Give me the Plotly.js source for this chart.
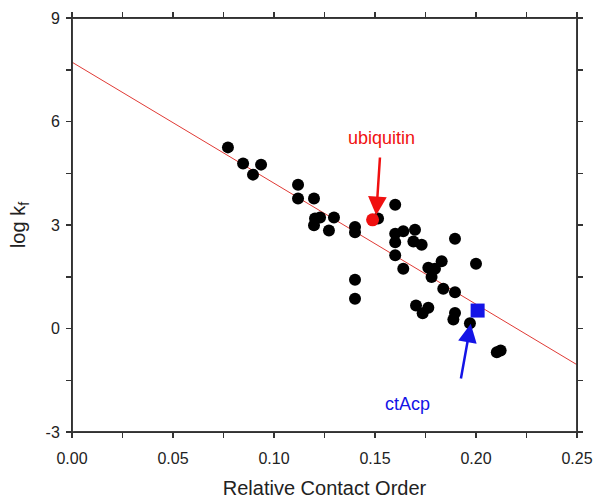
<!DOCTYPE html>
<html>
<head>
<meta charset="utf-8">
<script src="https://cdn.plot.ly/plotly-3.0.1.min.js"></script>
<style>html,body{margin:0;padding:0;background:#fff}#chart{width:597px;height:499px}</style>
</head>
<body>
<div id="chart"></div>
<script>
// Relative contact order (x) and log kf (y) of the protein set
const rco = [0.0772,0.0847,0.0936,0.0896,0.1119,0.1119,0.1198,0.1203,0.1228,0.1198,0.1297,0.1272,
  0.1515,0.160,0.1401,0.1401,0.160,0.164,0.1698,0.160,0.169,0.1731,0.1896,0.160,0.164,0.183,
  0.1764,0.1797,0.178,0.200,0.1401,0.1401,0.1838,0.1896,0.1703,0.1764,0.1736,0.1896,0.1888,
  0.197,0.2103,0.2122];
const logkf = [5.25,4.78,4.75,4.46,4.17,3.77,3.77,3.19,3.22,2.99,3.22,2.84,
  3.19,3.59,2.94,2.79,2.75,2.82,2.86,2.50,2.52,2.43,2.60,2.12,1.73,1.95,
  1.76,1.73,1.49,1.88,1.41,0.86,1.15,1.05,0.67,0.60,0.44,0.45,0.26,
  0.15,-0.69,-0.64];
const ubiquitinX = [0.1488], ubiquitinY = [3.15];
const ctAcpX = [0.2008], ctAcpY = [0.52];
const fitX = [0, 0.25], fitY = [7.72, -1.05];
const xTicks = [0, 0.025, 0.05, 0.075, 0.10, 0.125, 0.15, 0.175, 0.20, 0.225, 0.25];
const xTickText = ['0.00',' ','0.05',' ','0.10',' ','0.15',' ','0.20',' ','0.25'];
const yTicks = [-3, -1.5, 0, 1.5, 3, 4.5, 6, 7.5, 9];
const yTickText = ['-3',' ','0',' ','3',' ','6',' ','9'];
const xRange = [0, 0.25], yRange = [-3, 9];

const axisCol = '#333';
const fam = 'Liberation Sans, Arial, sans-serif';
const tickFont = {family: fam, size: 16, color: '#222'};

const traces = [
  {x: fitX, y: fitY, mode: 'lines', line: {color: '#e03a35', width: 1}, hoverinfo: 'skip'},
  {x: rco, y: logkf, mode: 'markers', marker: {color: '#000', size: 12, symbol: 'circle'}},
  {x: ubiquitinX, y: ubiquitinY, mode: 'markers', marker: {color: '#f01010', size: 13, symbol: 'circle'}},
  {x: ctAcpX, y: ctAcpY, mode: 'markers', marker: {color: '#1414e6', size: 14, symbol: 'square'}}
];

// frame edges built from the axis ranges, drawn as plain lines
function edge(x0, y0, x1, y1) {
  return {x: x1, y: y1, ax: x0, ay: y0, xref: 'x', yref: 'y', axref: 'x', ayref: 'y',
    text: '', showarrow: true, arrowhead: 0, arrowwidth: 1.5, arrowcolor: axisCol, standoff: 0, startstandoff: 0};
}
const frameEdges = [
  edge(xRange[0], yRange[0], xRange[1], yRange[0]),
  edge(xRange[1], yRange[0], xRange[1], yRange[1]),
  edge(xRange[1], yRange[1], xRange[0], yRange[1]),
  edge(xRange[0], yRange[1], xRange[0], yRange[0])
];

const layout = {
  width: 597, height: 499,
  margin: {l: 72, r: 20, t: 18, b: 67},
  paper_bgcolor: '#fff', plot_bgcolor: '#fff',
  showlegend: false,
  xaxis: {
    range: xRange, tickmode: 'array', tickvals: xTicks, ticktext: xTickText,
    ticks: 'outside', ticklen: 5, tickwidth: 1.5, tickcolor: axisCol, ticklabelstandoff: 7,
    showline: true, linecolor: axisCol, linewidth: 1, mirror: 'ticks',
    showgrid: false, zeroline: false, tickfont: tickFont,
    title: {text: 'Relative Contact Order', font: {family: fam, size: 20, color: '#222'}, standoff: 14}
  },
  yaxis: {
    range: yRange, tickmode: 'array', tickvals: yTicks, ticktext: yTickText,
    ticks: 'outside', ticklen: 5, tickwidth: 1.5, tickcolor: axisCol, ticklabelstandoff: 3,
    showline: true, linecolor: axisCol, linewidth: 1, mirror: 'ticks',
    showgrid: false, zeroline: false, tickfont: tickFont,
    title: {text: 'log k<sub>f</sub>', font: {family: fam, size: 20, color: '#222'}, standoff: 14}
  },
  shapes: [
    {type: 'rect', xref: 'x', yref: 'y', x0: xRange[0], x1: xRange[1], y0: yRange[0], y1: yRange[1],
     line: {color: axisCol, width: 1.5}, fillcolor: 'rgba(0,0,0,0)', layer: 'above'}
  ],
  annotations: frameEdges.concat([
    {x: 0.1506, y: 3.28, ax: 0.1525, ay: 5.0, xref: 'x', yref: 'y', axref: 'x', ayref: 'y',
     text: '', showarrow: true, arrowhead: 2, arrowsize: 1.5, arrowwidth: 2.5, arrowcolor: '#f01010', standoff: 0},
    {x: 0.1533, y: 5.51, xref: 'x', yref: 'y', text: 'ubiquitin', showarrow: false,
     font: {family: fam, size: 18, color: '#f01010'}},
    {x: 0.1974, y: 0.14, ax: 0.1924, ay: -1.49, xref: 'x', yref: 'y', axref: 'x', ayref: 'y',
     text: '', showarrow: true, arrowhead: 2, arrowsize: 1.5, arrowwidth: 2.5, arrowcolor: '#1414e6', standoff: 0},
    {x: 0.1663, y: -2.2, xref: 'x', yref: 'y', text: 'ctAcp', showarrow: false,
     font: {family: fam, size: 18, color: '#1414e6'}}
  ])
};

Plotly.newPlot('chart', traces, layout, {displayModeBar: false, staticPlot: true});
</script>
</body>
</html>
